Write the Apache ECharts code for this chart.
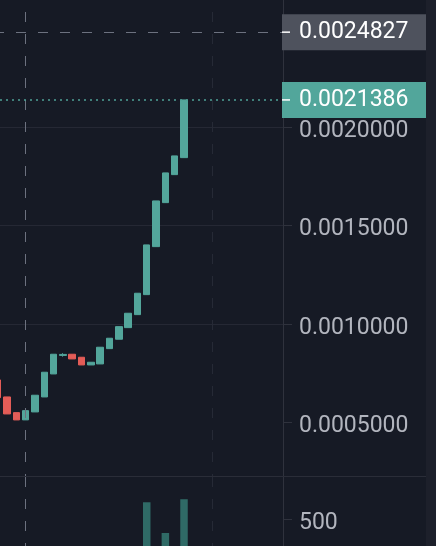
<!DOCTYPE html>
<html>
<head>
<meta charset="utf-8">
<script src="https://cdn.jsdelivr.net/npm/echarts@6/dist/echarts.min.js"></script>
<style>
html,body{margin:0;padding:0;background:#161a25;overflow:hidden;}
#chart{width:436px;height:546px;}
</style>
</head>
<body>
<div id="chart"></div>
<script>
// ---- data ----
const categories = [
  '04-01','04-02','04-03','04-04','04-05','04-06','04-07','04-08',
  '04-09','04-10','04-11','04-12','04-13','04-14','04-15','04-16',
  '04-17','04-18','04-19','04-20','04-21'
];
const opens  = [0.0007169,0.0006305,0.0005508,0.0005140,0.0005544,0.0006305,0.0007473,0.0008413,
                0.0008474,0.0008321,0.0007930,0.0007981,0.0008758,0.0009235,0.0009824,0.0010484,
                0.0011500,0.0013937,0.0016171,0.0017593,0.0018456];
const closes = [0.0006270,0.0005442,0.0005138,0.0005610,0.0006392,0.0007560,0.0008474,0.0008464,
                0.0008235,0.0007930,0.0008067,0.0008829,0.0009286,0.0009875,0.0010555,0.0011571,
                0.0014024,0.0016258,0.0017680,0.0018543,0.0021386];
const lows   = [0.0006270,0.0005442,0.0005138,0.0005140,0.0005544,0.0006305,0.0007473,0.0008352,
                0.0008235,0.0007930,0.0007930,0.0007981,0.0008758,0.0009235,0.0009824,0.0010484,
                0.0011500,0.0013937,0.0016171,0.0017593,0.0018456];
const highs  = [0.0007169,0.0006305,0.0005508,0.0005610,0.0006392,0.0007560,0.0008474,0.0008524,
                0.0008474,0.0008321,0.0008067,0.0008829,0.0009286,0.0009875,0.0010555,0.0011571,
                0.0014024,0.0016258,0.0017680,0.0018543,0.0021386];
const volumes = [120,95,60,75,110,180,210,45,70,85,40,130,90,105,150,230,640,240,387,205,665];
const priceTicks = [0.0005,0.0010,0.0015,0.0020,0.0025];
const priceTickLabels = [0.0005,0.0010,0.0015,0.0020];
const volumeTicks = [500];
const crosshairPrice = 0.0024827;
const lastPrice = 0.0021386;
const crosshairSlot = 3;   // bar slot of the vertical crosshair
const gridSlot = 23;       // bar slot of the vertical grid line

// ---- build ----
const candleData = categories.map((c, i) => ({
  name: c, value: [i, opens[i], closes[i], lows[i], highs[i]]
}));
const volumeData = categories.map((c, i) => ({
  name: c, value: [i, volumes[i]],
  itemStyle: { color: closes[i] >= opens[i] ? '#2f6a66' : '#6b3337' }
}));

const BAND = 9.316;            // px per bar slot
const X_MIN = 0.2486;          // visible slot range
const X_MAX = 31.5;
const GRID_W = (X_MAX - X_MIN) * BAND;
const AXIS_OFFSET = 283 - GRID_W;

const FONT = 'Roboto';
const labelColor = '#b2b5be';
const gridColor = '#252834';
const axisColor = '#2f323d';

const tickLabelRich = {
  a: { fontSize: 23, fontFamily: FONT, color: labelColor, padding: [8, 0, 0, 0] }
};

function priceBoxLabel(bg) {
  return {
    show: true,
    position: 'end',
    distance: 282 - GRID_W,
    formatter: p => '{t|}{v|' + Number(p.value).toFixed(7) + '}',
    backgroundColor: bg,
    padding: [7, 0, 7, 0],
    width: 144,
    lineHeight: 22,
    rich: {
      t: { width: 8, height: 1.5, backgroundColor: '#ffffff' },
      v: { fontSize: 23, fontFamily: FONT, color: '#ffffff', padding: [0, 0, 0, 9], lineHeight: 22 }
    }
  };
}

const chart = echarts.init(document.getElementById('chart'), null, { renderer: 'canvas' });
chart.setOption({
  animation: false,
  backgroundColor: '#161a25',
  grid: [
    { left: 0, width: GRID_W, top: 0, height: 477 },
    { left: 0, width: GRID_W, top: 477, height: 69 }
  ],
  xAxis: [
    { type: 'value', gridIndex: 0, show: false, min: X_MIN, max: X_MAX },
    { type: 'value', gridIndex: 1, show: false, min: X_MIN, max: X_MAX }
  ],
  yAxis: [
    {
      type: 'value', gridIndex: 0, position: 'right', offset: AXIS_OFFSET,
      min: 0.000224, max: 0.002646,
      axisLine: { show: true, lineStyle: { color: axisColor, width: 1 } },
      axisTick: { show: true, length: 9, customValues: priceTicks, lineStyle: { color: axisColor } },
      axisLabel: {
        customValues: priceTickLabels, margin: 16, color: labelColor, fontSize: 23, fontFamily: FONT,
        formatter: v => '{a|' + Number(v).toFixed(7) + '}', rich: tickLabelRich
      },
      splitLine: { show: true, showMinLine: false, showMaxLine: false, lineStyle: { color: gridColor, width: 1 } }
    },
    {
      type: 'value', gridIndex: 1, position: 'right', offset: AXIS_OFFSET,
      min: 280, max: 848,
      axisLine: { show: true, lineStyle: { color: axisColor, width: 1 } },
      axisTick: { show: true, length: 9, customValues: volumeTicks, lineStyle: { color: axisColor } },
      axisLabel: {
        customValues: volumeTicks, margin: 16, color: labelColor, fontSize: 23, fontFamily: FONT,
        formatter: v => '{a|' + String(v) + '}', rich: tickLabelRich
      },
      splitLine: { show: true, showMinLine: false, showMaxLine: false, lineStyle: { color: gridColor, width: 1 } }
    }
  ],
  series: [
    {
      type: 'candlestick', xAxisIndex: 0, yAxisIndex: 0, layout: 'horizontal',
      data: candleData, barWidth: 7, clip: true,
      itemStyle: { color: '#53a69b', color0: '#e35c57', borderColor: '#53a69b', borderColor0: '#e35c57', borderWidth: 1 },
      markLine: {
        silent: true, symbol: ['none', 'none'], animation: false, precision: 7,
        data: [
          { xAxis: gridSlot, label: { show: false },
            lineStyle: { color: '#262a36', width: 1, type: [10, 12], dashOffset: 7 } },
          { xAxis: crosshairSlot, label: { show: false },
            lineStyle: { color: '#6c717f', width: 1, type: [10, 12], dashOffset: 7 } },
          { yAxis: lastPrice, label: priceBoxLabel('#52a69b'),
            lineStyle: { color: '#4fa197', width: 1.5, type: [2, 4], dashOffset: 0 } },
          { yAxis: crosshairPrice, label: priceBoxLabel('#4e525d'),
            lineStyle: { color: '#6c717f', width: 1, type: [10, 12], dashOffset: 6 } }
        ]
      }
    },
    {
      type: 'bar', xAxisIndex: 1, yAxisIndex: 1, data: volumeData, barWidth: 7.5, clip: true,
      markLine: {
        silent: true, symbol: ['none', 'none'], animation: false, precision: 7,
        data: [
          { xAxis: gridSlot, label: { show: false },
            lineStyle: { color: '#262a36', width: 1, type: [10, 12], dashOffset: 7 } },
          { xAxis: crosshairSlot, label: { show: false },
            lineStyle: { color: '#6c717f', width: 1, type: [10, 12], dashOffset: 7 } }
        ]
      }
    }
  ],
  graphic: [
    { type: 'rect', z: 50, silent: true, shape: { x: 0, y: 476, width: 426, height: 1 }, style: { fill: '#2a2d38' } },
    { type: 'rect', z: 100, silent: true, shape: { x: 426, y: 0, width: 10, height: 546 }, style: { fill: '#1d202b' } }
  ]
});
</script>
</body>
</html>
